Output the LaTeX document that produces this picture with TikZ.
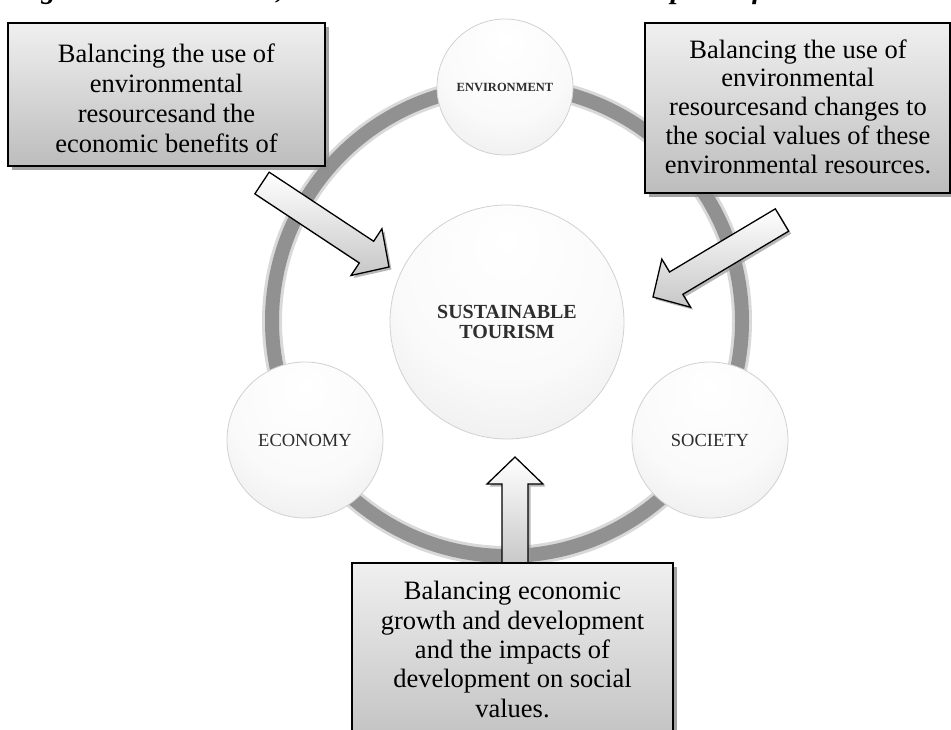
\documentclass[tikz,border=0pt]{standalone}
\usepackage{fontspec}
\setmainfont{Liberation Serif}
\usetikzlibrary{calc,shadows}

% soft sphere look for the circles: light top, grey rim at the bottom
\pgfdeclareradialshading{sphereshade}{\pgfpoint{0bp}{18bp}}{%
  color(0bp)=(white); color(24bp)=(white!98!black); color(44bp)=(black!9);
  color(58bp)=(black!18); color(70bp)=(black!28)}

\tikzset{
  ringhalo/.style={line width=20pt, draw=black!15},
  ringline/.style={line width=14pt, draw=black!43},
  ball/.style={circle, shading=sphereshade, draw=black!18, line width=0.8pt,
    inner sep=0pt, align=center, text=black!82},
  notebox/.style={rectangle, draw=black, line width=1.4pt, inner sep=0pt,
    top color=black!6, bottom color=black!26,
    drop shadow={shadow xshift=3.5pt, shadow yshift=-3.5pt, fill=black!45, opacity=0.8}},
  notetext/.style={align=center, inner sep=0pt, text=black},
  blkarrow/.style={draw=black, line width=1.3pt, line join=miter,
    top color=white, bottom color=black!22,
    drop shadow={shadow xshift=2.5pt, shadow yshift=-2.5pt, fill=black!40, opacity=0.7}},
}

% block arrow from tail coordinate #1 to tip coordinate #2
\newcommand{\blockarrow}[2]{%
  \coordinate (#1-hb) at ($(#2)!27pt!(#1)$);
  \path[blkarrow]
    ($(#1)!13pt!90:(#2)$) --
    ($(#1-hb)!13pt!-90:(#1)$) --
    ($(#1-hb)!28pt!-90:(#1)$) --
    (#2) --
    ($(#1-hb)!28pt!90:(#1)$) --
    ($(#1-hb)!13pt!90:(#1)$) --
    ($(#1)!13pt!-90:(#2)$) -- cycle;
}

\begin{document}
\begin{tikzpicture}[x=1pt,y=-1pt]
\useasboundingbox (0,0) rectangle (951,729);
\clip (0,0) rectangle (951,729);

% caption line running off the top edge
\node[anchor=base west, inner sep=0pt,
      font=\bfseries\itshape\fontsize{29}{30}\selectfont] (caption) at (14,-1.5)
  {Figure 1: Ecotourism, social and the environmental aspects of tourism};

% the ring joining the three pillars
\coordinate (ringc) at (507,321);
\draw[ringhalo] (ringc) circle (235);
\draw[ringline] (ringc) circle (235);

% pillar circles and the central circle
\node[ball, minimum size=136pt, font=\bfseries\fontsize{12.5}{14}\selectfont]
  (env) at (505,87) {ENVIRONMENT};
\node[ball, minimum size=156pt, font=\fontsize{18.5}{20}\selectfont]
  (eco) at (305,440) {ECONOMY};
\node[ball, minimum size=156pt, font=\fontsize{18.5}{20}\selectfont]
  (soc) at (710,440) {SOCIETY};
\node[ball, minimum size=234pt, font=\bfseries\fontsize{20}{20.5}\selectfont]
  (st) at (507,322) {SUSTAINABLE\\TOURISM};

% block arrows pointing at the centre
\coordinate (tlTail) at (262,183);
\coordinate (tlTip) at (389,267);
\coordinate (trTail) at (782,220);
\coordinate (trTip) at (653,297);
\coordinate (bTail) at (515,566);
\coordinate (bTip) at (515,457);
\blockarrow{tlTail}{tlTip}
\blockarrow{trTail}{trTip}
\blockarrow{bTail}{bTip}

% note boxes
\node[notebox, minimum width=317pt, minimum height=143pt] (boxTL) at (166.5,94.5) {};
\node[notetext, font=\fontsize{26.5}{30}\selectfont] (txtTL) at (166.5,98)
  {Balancing the use of\\environmental\\resourcesand the\\economic benefits of};

\node[notebox, minimum width=305pt, minimum height=170pt] (boxTR) at (797.5,108) {};
\node[notetext, font=\fontsize{26.5}{28.8}\selectfont] (txtTR) at (798,106.5)
  {Balancing the use of\\environmental\\resourcesand changes to\\the social values of these\\environmental resources.};

\node[notebox, minimum width=321pt, minimum height=200pt] (boxB) at (512.5,663) {};
\node[notetext, font=\fontsize{26.5}{29.3}\selectfont] (txtB) at (512.5,649.5)
  {Balancing economic\\growth and development\\and the impacts of\\development on social\\values.};
\end{tikzpicture}
\end{document}
